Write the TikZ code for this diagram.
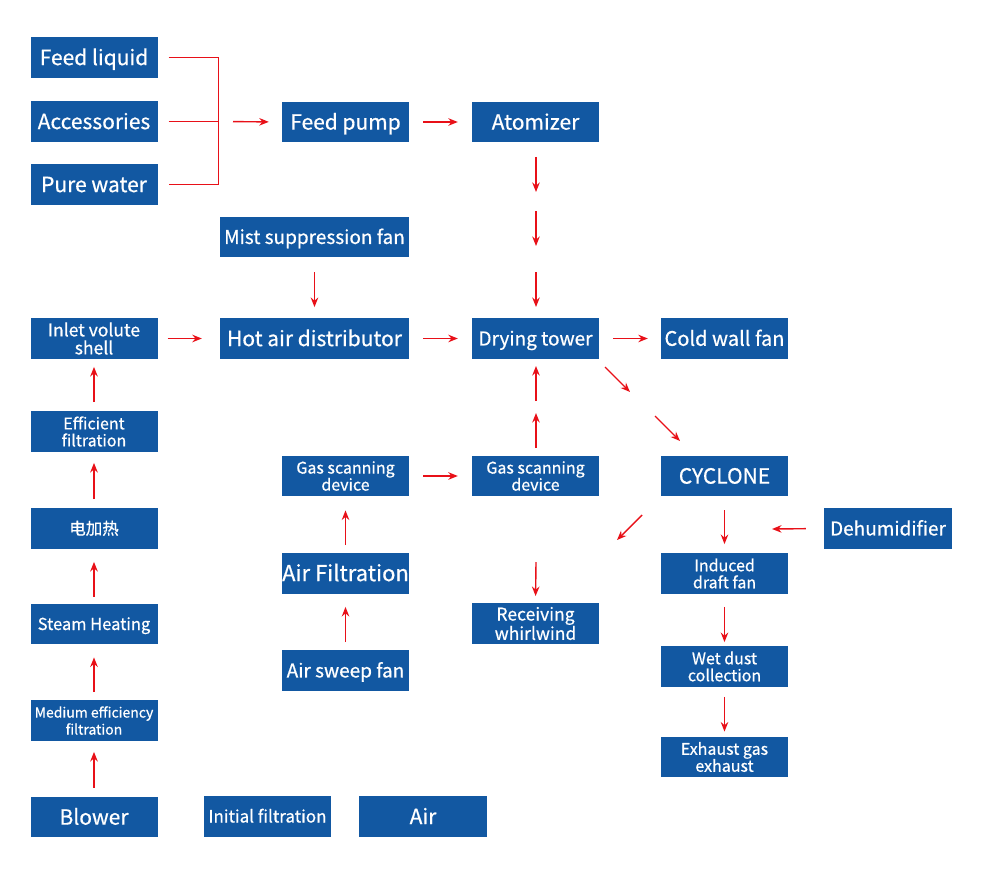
\documentclass[tikz,border=0pt]{standalone}
\usepackage{fontspec}
\setmainfont{Noto Sans CJK SC}[FakeBold=0.6]
\usetikzlibrary{arrows.meta}
\definecolor{boxblue}{RGB}{18,88,162}
\definecolor{arrred}{RGB}{232,16,24}
\begin{document}
\begin{tikzpicture}[x=1pt,y=-1pt,
  box/.style={fill=boxblue,text=white,minimum width=127pt,minimum height=40.5pt,inner sep=0pt,align=center,font=\fontsize{21}{23}\selectfont,text height=15.3pt,text depth=0pt},
  two/.style={font=\fontsize{16}{17}\selectfont,text height=,text depth=},
  twobig/.style={font=\fontsize{17.5}{18}\selectfont,text height=,text depth=},
  mid/.style={font=\fontsize{19}{21}\selectfont,text height=13.9pt,text depth=0pt},
  sml/.style={font=\fontsize{16.5}{18}\selectfont,text height=12pt,text depth=0pt},
  arr/.style={draw=arrred,line width=1.4pt,-{Stealth[length=9.5pt,width=7.5pt]}},
  brk/.style={draw=arrred,line width=1pt}]
\useasboundingbox (0,0) rectangle (1000,869);
% nodes
\node[box] (fl) at (94,57.5) {Feed liquid};
\node[box] (acc) at (94,121.5) {Accessories};
\node[box] (pw) at (94,184.5) {Pure water};
\node[box] (fp) at (345.5,122) {Feed pump};
\node[box] (at) at (535.5,122) {Atomizer};
\node[box,mid,minimum width=189pt] (msf) at (314.5,237) {Mist suppression fan};
\node[box,minimum width=189pt] (had) at (314.5,338.5) {Hot air distributor};
\node[box,mid] (dt) at (535.5,338.5) {Drying tower};
\node[box,font=\fontsize{20}{22}\selectfont,text height=14.6pt] (cwf) at (724.5,338.5) {Cold wall fan};
\node[box,twobig] (ivs) at (94,338.5) {Inlet volute\\shell};
\node[box,two] (ef) at (94,431.5) {Efficient\\filtration};
\node[box,sml] (ej) at (94,528.5) {电加热};
\node[box,sml] (sh) at (94,624) {Steam Heating};
\node[box,two,font=\fontsize{14}{17}\selectfont] (mef) at (94,720.5) {Medium efficiency\\filtration};
\node[box] (bl) at (94,817) {Blower};
\node[box,sml,font=\fontsize{17}{19}\selectfont] (inf) at (267.5,816.5) {Initial filtration};
\node[box,minimum width=128pt] (air) at (423,816.5) {Air};
\node[box,two] (gsd1) at (345.5,476) {Gas scanning\\device};
\node[box,two] (gsd2) at (535.5,476) {Gas scanning\\device};
\node[box] (cyc) at (724.5,476) {CYCLONE};
\node[box,font=\fontsize{22}{24}\selectfont] (af) at (345.5,573.5) {Air Filtration};
\node[box,mid] (asf) at (345.5,670.5) {Air sweep fan};
\node[box,twobig] (rw) at (535.5,623.5) {Receiving\\whirlwind};
\node[box,two] (idf) at (724.5,573.5) {Induced\\draft fan};
\node[box,mid,minimum width=128pt] (deh) at (888,528.5) {Dehumidifier};
\node[box,two] (wdc) at (724.5,666.5) {Wet dust\\collection};
\node[box,two] (ege) at (724.5,757) {Exhaust gas\\exhaust};
% bracket
\coordinate (bt) at (218,57.5);
\coordinate (bm) at (218,121.5);
\coordinate (bb) at (218,184.5);
\draw[brk] ([xshift=11pt]fl.east) -- (bt) -- (bb) -- ([xshift=11pt]pw.east);
\draw[brk] ([xshift=11pt]acc.east) -- (bm);
\draw[arr,shorten <=15pt,shorten >=13pt] (bm) -- (fp.west);
\draw[arr,shorten <=14pt,shorten >=14pt] (fp.east) -- (at.west);
% atomizer to drying tower
\coordinate (a1) at (536,157); \coordinate (a2) at (536,192);
\coordinate (a3) at (536,211); \coordinate (a4) at (536,246);
\coordinate (a5) at (536,272); \coordinate (a6) at (536,307);
\draw[arr] (a1) -- (a2);
\draw[arr] (a3) -- (a4);
\draw[arr] (a5) -- (a6);
\draw[arr,shorten <=15pt,shorten >=11pt] (msf.south) -- (had.north);
\draw[arr,shorten <=10pt,shorten >=18pt] (ivs.east) -- (had.west);
\draw[arr,shorten <=14pt,shorten >=14pt] (had.east) -- (dt.west);
\draw[arr,shorten <=14pt,shorten >=13pt] (dt.east) -- (cwf.west);
% diagonals to cyclone
\coordinate (d1) at (605,367); \coordinate (d2) at (630,392);
\coordinate (d3) at (655,416); \coordinate (d4) at (680,441);
\draw[arr] (d1) -- (d2);
\draw[arr] (d3) -- (d4);
% gas scanning up to drying tower
\coordinate (u1) at (536,448); \coordinate (u2) at (536,413);
\coordinate (u3) at (536,401); \coordinate (u4) at (536,366);
\draw[arr] (u1) -- (u2);
\draw[arr] (u3) -- (u4);
\draw[arr,shorten <=14pt,shorten >=14pt] (gsd1.east) -- (gsd2.west);
\draw[arr,shorten <=8pt,shorten >=14pt] (af.north) -- (gsd1.south);
\draw[arr,shorten <=8pt,shorten >=13pt] (asf.north) -- (af.south);
% left column
\draw[arr,shorten <=9pt,shorten >=8pt] (ef.north) -- (ivs.south);
\draw[arr,shorten <=9pt,shorten >=11pt] (ej.north) -- (ef.south);
\draw[arr,shorten <=7pt,shorten >=13pt] (sh.north) -- (ej.south);
\draw[arr,shorten <=8pt,shorten >=13pt] (mef.north) -- (sh.south);
\draw[arr,shorten <=9pt,shorten >=11pt] (bl.north) -- (mef.south);
% cyclone outputs
\coordinate (c1) at (642,515); \coordinate (c2) at (617,540);
\draw[arr] (c1) -- (c2);
\coordinate (r1) at (536,562);
\draw[arr,shorten >=7pt] (r1) -- (rw.north);
\draw[arr,shorten <=14pt,shorten >=9pt] (cyc.south) -- (idf.north);
\coordinate (h1) at (772,529);
\draw[arr,shorten <=18pt] (deh.west) -- (h1);
\draw[arr,shorten <=13pt,shorten >=4pt] (idf.south) -- (wdc.north);
\draw[arr,shorten <=10pt,shorten >=5pt] (wdc.south) -- (ege.north);
\end{tikzpicture}
\end{document}
